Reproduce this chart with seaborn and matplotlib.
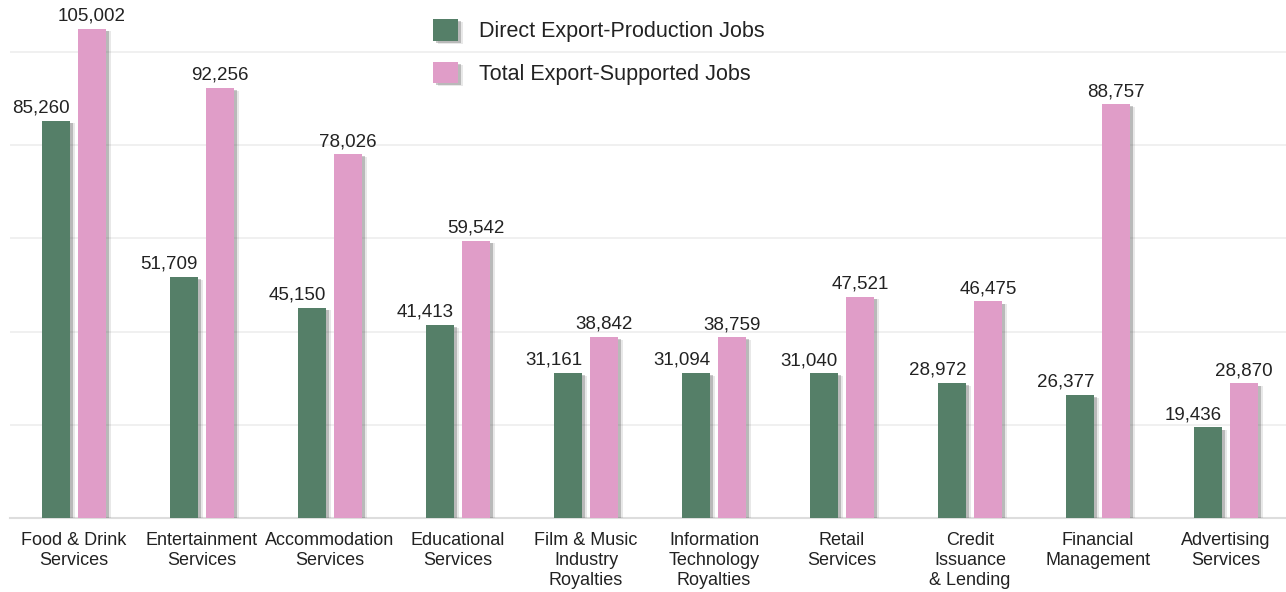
import matplotlib
matplotlib.use("Agg")
import matplotlib.pyplot as plt
import matplotlib.patheffects as pe
import seaborn as sns
import pandas as pd
from matplotlib.patches import Patch

categories = ["Food & Drink\nServices", "Entertainment\nServices", "Accommodation\nServices",
              "Educational\nServices", "Film & Music\nIndustry\nRoyalties",
              "Information\nTechnology\nRoyalties", "Retail\nServices",
              "Credit\nIssuance\n& Lending", "Financial\nManagement", "Advertising\nServices"]
direct_jobs = [85260, 51709, 45150, 41413, 31161, 31094, 31040, 28972, 26377, 19436]
total_jobs = [105002, 92256, 78026, 59542, 38842, 38759, 47521, 46475, 88757, 28870]
series_names = ["Direct Export-Production Jobs", "Total Export-Supported Jobs"]
colors = ["#557f68", "#e09dc8"]

df = pd.DataFrame({
    "category": categories * 2,
    "value": direct_jobs + total_jobs,
    "series": [series_names[0]] * len(categories) + [series_names[1]] * len(categories),
})

sns.set_theme(style="white")
plt.rcParams['font.family'] = ['Liberation Sans', 'DejaVu Sans']
plt.rcParams['text.color'] = '#222222'

fig = plt.figure(figsize=(12.86, 5.92), dpi=100)
ax = fig.add_axes([10 / 1286, 74 / 592, 1280 / 1286, 518 / 592])

sns.barplot(data=df, x="category", y="value", hue="series", palette=colors,
            width=0.56, gap=0.22, ax=ax, saturation=1, legend=False, linewidth=0,
            zorder=3)

shadow = [pe.SimplePatchShadow(offset=(2, -1.5), alpha=0.28, shadow_rgbFace="#444444"),
          pe.SimplePatchShadow(offset=(3.5, -2), alpha=0.12, shadow_rgbFace="#444444"),
          pe.Normal()]
for p in ax.patches:
    p.set_path_effects(shadow)

ax.set_xlim(-0.5, 9.5)
ax.set_ylim(0, 111160)
ax.set_yticks([20000, 40000, 60000, 80000, 100000])
ax.yaxis.grid(True, color="#eeeeee", linewidth=1.2, zorder=0)
ax.set_axisbelow(True)
ax.set_yticklabels([])
ax.tick_params(axis='y', length=0)
ax.tick_params(axis='x', length=0, pad=10, labelsize=13, labelcolor='#222222')
for lbl in ax.get_xticklabels():
    lbl.set_linespacing(1.22)
ax.set_xlabel("")
ax.set_ylabel("")
for s in ["left", "right", "top"]:
    ax.spines[s].set_visible(False)
ax.spines["bottom"].set_color("#dddddd")
ax.spines["bottom"].set_linewidth(1.5)

for ci, cont in enumerate(ax.containers):
    for bar in cont:
        h = bar.get_height()
        if ci == 0:
            x = bar.get_x() + bar.get_width()
            ha = "right"
        else:
            x = bar.get_x() + bar.get_width() / 2
            ha = "center"
        ax.annotate(f"{h:,.0f}", (x, h), xytext=(0, 3), textcoords="offset points",
                    ha=ha, va="bottom", fontsize=13.5, color="#222222")

handles = [Patch(facecolor=c, edgecolor="none", path_effects=shadow) for c in colors]
fig.legend(handles, series_names, loc="upper left", bbox_to_anchor=(414 / 1286, 1.0),
           frameon=False, fontsize=15.5, handlelength=1.16, handleheight=1.16,
           handletextpad=0.95, labelspacing=0.9)

fig.savefig("out.png", dpi=100)
